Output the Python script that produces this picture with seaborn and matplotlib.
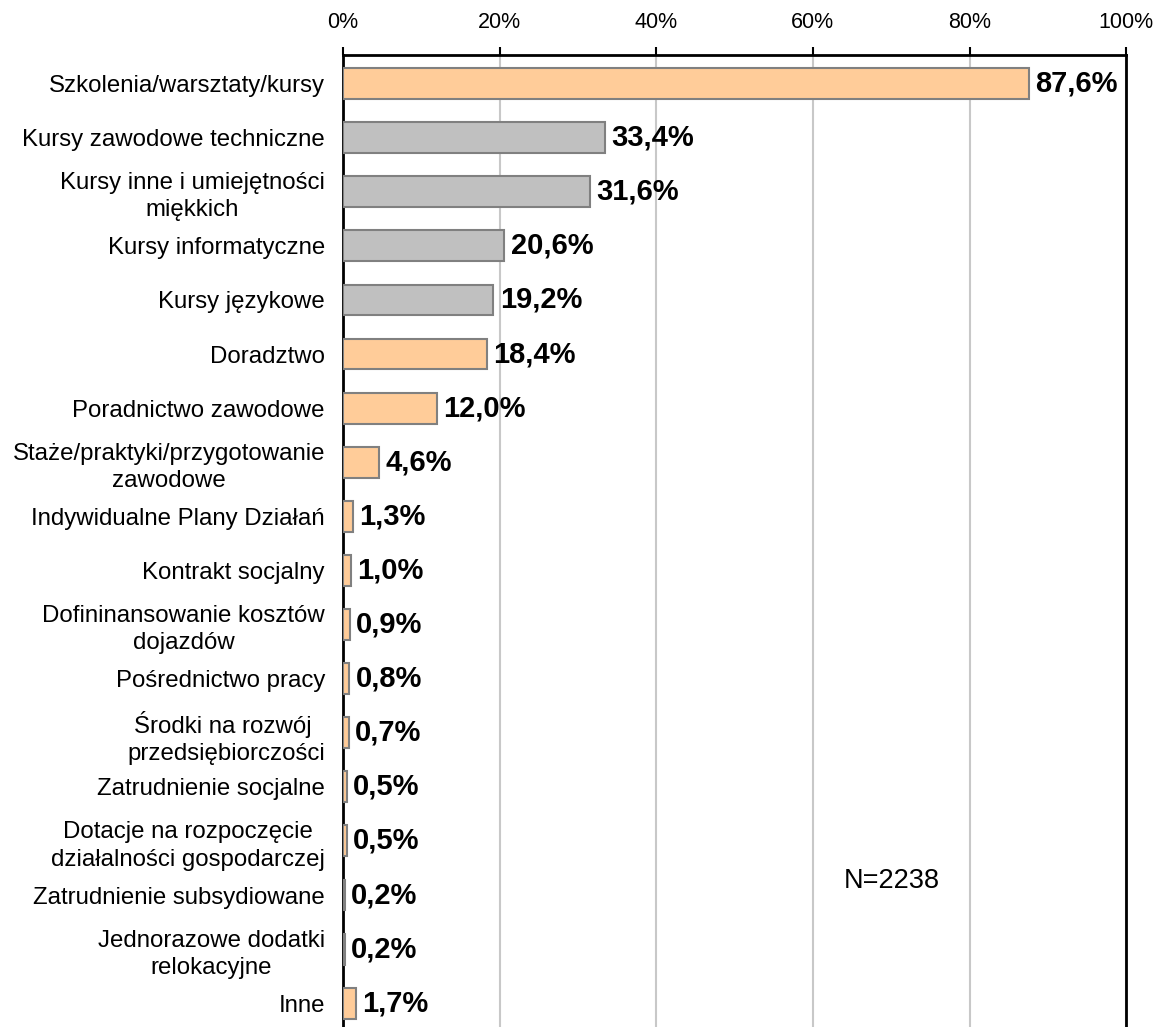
import matplotlib
matplotlib.use("Agg")
import matplotlib.pyplot as plt
import seaborn as sns
import pandas as pd
from matplotlib.ticker import FuncFormatter

categories = [
    "Szkolenia/warsztaty/kursy",
    "Kursy zawodowe techniczne",
    "Kursy inne i umiejętności\nmiękkich",
    "Kursy informatyczne",
    "Kursy językowe",
    "Doradztwo",
    "Poradnictwo zawodowe",
    "Staże/praktyki/przygotowanie\nzawodowe",
    "Indywidualne Plany Działań",
    "Kontrakt socjalny",
    "Dofininansowanie kosztów\ndojazdów",
    "Pośrednictwo pracy",
    "Środki na rozwój \nprzedsiębiorczości",
    "Zatrudnienie socjalne",
    "Dotacje na rozpoczęcie\ndziałalności gospodarczej",
    "Zatrudnienie subsydiowane",
    "Jednorazowe dodatki\nrelokacyjne",
    "Inne",
]
values = [87.6, 33.4, 31.6, 20.6, 19.2, 18.4, 12.0, 4.6, 1.3, 1.0,
          0.9, 0.8, 0.7, 0.5, 0.5, 0.2, 0.2, 1.7]
groups = ["main", "sub", "sub", "sub", "sub", "main", "main", "main", "main",
          "main", "main", "main", "main", "main", "main", "sub", "sub", "main"]
palette = {"main": "#FFCC99", "sub": "#C0C0C0"}
note = "N=2238"

df = pd.DataFrame({"cat": categories, "val": values, "grp": groups})

sns.set_style("white")
plt.rcParams["font.family"] = ["Liberation Sans", "DejaVu Sans"]
plt.rcParams["text.color"] = "black"
plt.rcParams["xtick.color"] = "black"
plt.rcParams["ytick.color"] = "black"

fig = plt.figure(figsize=(11.55, 10.27), dpi=100)
ax = fig.add_axes([0.297, 0.0, 0.678, 0.946])

sns.barplot(data=df, x="val", y="cat", hue="grp", palette=palette,
            saturation=1, dodge=False, legend=False, width=0.57,
            edgecolor="#808080", linewidth=1.5, ax=ax, zorder=3)

ax.set_xlim(0, 100)
ax.set_ylim(17.44, -0.52)
ax.xaxis.set_ticks_position("top")
ax.set_xticks(range(0, 101, 20))
ax.xaxis.set_major_formatter(FuncFormatter(lambda v, p: f"{int(v)}%"))
ax.grid(axis="x", color="#C8C8C8", linewidth=1.5, zorder=0)
ax.tick_params(axis="x", direction="out", length=6, width=1.5,
               labelsize=15.5, pad=10, labelcolor="black")
ax.tick_params(axis="y", length=0, labelsize=17.3, pad=13,
               labelcolor="black")
for lbl in ax.get_yticklabels():
    lbl.set_multialignment("center")
    lbl.set_linespacing(1.3)
ax.set_xlabel("")
ax.set_ylabel("")

for side in ["top", "left", "right"]:
    ax.spines[side].set_visible(True)
    ax.spines[side].set_color("black")
    ax.spines[side].set_linewidth(2)
ax.spines["bottom"].set_visible(False)

for i, v in enumerate(values):
    ax.annotate(f"{v:.1f}%".replace(".", ","), xy=(v, i), xytext=(4.5, 0),
                textcoords="offset points", va="center", ha="left",
                fontsize=21, fontweight="bold", color="black")

ax.text(64.0, 14.75, note, fontsize=19.5, va="center", ha="left",
        color="black")

fig.savefig("out.png", dpi=100)
